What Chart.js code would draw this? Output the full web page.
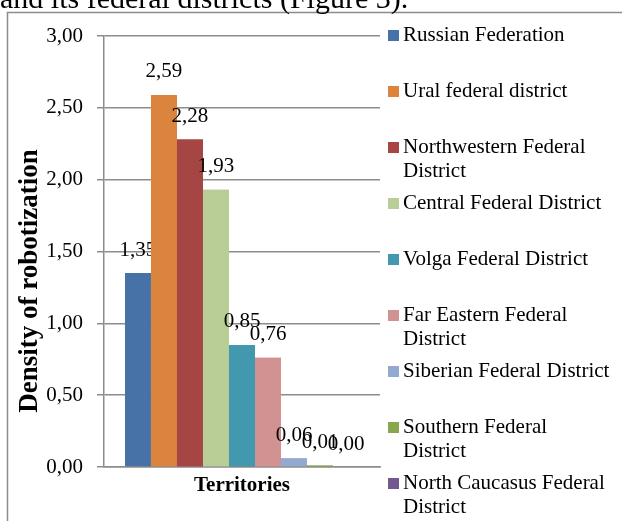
<!DOCTYPE html>
<html>
<head>
<meta charset="utf-8">
<script src="https://cdn.jsdelivr.net/npm/chart.js@4/dist/chart.umd.min.js"></script>
<style>
  body { margin: 0; background: #fff; }
  #wrap { position: relative; width: 622px; height: 521px; overflow: hidden; }
</style>
</head>
<body>
<div id="wrap"><canvas id="myChart" width="622" height="521"></canvas></div>
<script>
const chartEle = document.getElementById('myChart')

// one category, one dataset per territory
const categories = ['']
const territories = [
  ['Russian Federation'],
  ['Ural federal district'],
  ['Northwestern Federal', 'District'],
  ['Central Federal District'],
  ['Volga Federal District'],
  ['Far Eastern Federal', 'District'],
  ['Siberian Federal District'],
  ['Southern Federal', 'District'],
  ['North Caucasus Federal', 'District'],
]
const values = [1.35, 2.59, 2.28, 1.93, 0.85, 0.76, 0.06, 0.01, 0.00]
const colors = ['#4672a8', '#db843d', '#a64644', '#b9cd96', '#4198af', '#d19291', '#93a9cf', '#89a54e', '#71588f']
const yTicks = [0, 0.5, 1, 1.5, 2, 2.5, 3]
const yTitle = 'Density of robotization'

const serif = "'Liberation Serif', 'Times New Roman', serif"
const gray = '#8c8c8c'
const fmt = v => v.toFixed(2).replace('.', ',')

const datasets = values.map((v, i) => ({
  label: territories[i].join(' '),
  data: [v],
  backgroundColor: colors[i],
  borderWidth: 0,
}))

// labels sit behind the next bar like in the original, so draw label i then redraw bar i+1
const labelPlugin = {
  id: 'barLabels',
  afterDatasetsDraw(chart) {
    const ctx = chart.ctx
    ctx.save()
    ctx.font = '21px ' + serif
    ctx.fillStyle = '#000'
    ctx.textAlign = 'center'
    ctx.textBaseline = 'middle'
    for (let i = 0; i < datasets.length; i++) {
      const el = chart.getDatasetMeta(i).data[0]
      ctx.fillText(fmt(values[i]), el.x, el.y - 23)
      if (i + 1 < datasets.length) chart.getDatasetMeta(i + 1).data[0].draw(ctx)
    }
    ctx.restore()
  }
}

const framePlugin = {
  id: 'frame',
  beforeDraw(chart) {
    const ctx = chart.ctx
    ctx.save()
    ctx.strokeStyle = gray
    ctx.lineWidth = 1.5
    ctx.beginPath()
    ctx.moveTo(7.5, chart.height)
    ctx.lineTo(7.5, 12.5)
    ctx.lineTo(chart.width, 12.5)
    ctx.stroke()
    ctx.font = '30px ' + serif
    ctx.fillStyle = '#000'
    ctx.textBaseline = 'alphabetic'
    ctx.fillText('and its federal districts (Figure 3).', 0, 8)
    ctx.restore()
  },
  afterDraw(chart) {
    const ctx = chart.ctx
    ctx.save()
    // y axis title, sits a bit below the middle of the plot in the original
    ctx.translate(30, 281)
    ctx.rotate(-Math.PI / 2)
    ctx.font = 'bold 27px ' + serif
    ctx.fillStyle = '#000'
    ctx.textAlign = 'center'
    ctx.textBaseline = 'middle'
    ctx.fillText(yTitle, 0, 0)
    ctx.restore()

    // legend on the right
    ctx.save()
    ctx.font = '21px ' + serif
    ctx.textBaseline = 'middle'
    ctx.textAlign = 'left'
    territories.forEach((lines, i) => {
      const y = 35 + i * 56
      ctx.fillStyle = colors[i]
      ctx.fillRect(388, y - 5, 11, 11)
      ctx.fillStyle = '#000'
      lines.forEach((t, j) => ctx.fillText(t, 403, y + j * 24.5))
    })
    ctx.restore()
  }
}

const config = {
  type: 'bar',
  data: { labels: categories, datasets: datasets },
  options: {
    responsive: false,
    animation: false,
    layout: { padding: { left: 0, right: 242, top: 36, bottom: 0 } },
    categoryPercentage: 0.848,
    barPercentage: 1,
    plugins: { legend: { display: false }, tooltip: { enabled: false } },
    scales: {
      x: {
        grid: { display: false },
        border: { display: true, color: gray, width: 1.5 },
        ticks: { display: false },
        title: { display: true, text: 'Territories', color: '#000', font: { family: serif, size: 21, weight: 'bold' }, padding: { top: 0, bottom: 23 } },
        afterFit(scale) { scale.height = 54 },
      },
      y: {
        min: 0,
        max: 3,
        afterBuildTicks(scale) { scale.ticks = yTicks.map(v => ({ value: v })) },
        grid: { color: gray, lineWidth: 1.5, tickLength: 7 },
        border: { color: gray, width: 1.5 },
        ticks: { color: '#000', padding: 14, font: { family: serif, size: 21 }, callback: v => fmt(v) },
        afterFit(scale) { scale.width = 104 },
      }
    }
  },
  plugins: [framePlugin, labelPlugin]
}

const chart = new Chart(chartEle, config)
</script>
</body>
</html>
